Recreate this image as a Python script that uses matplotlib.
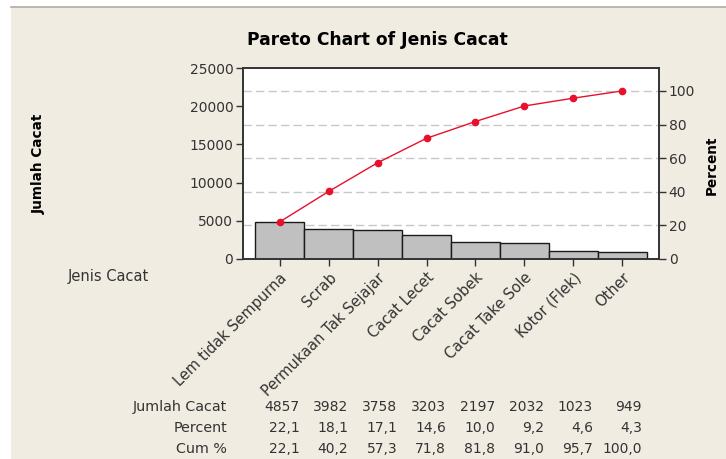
## PARETO CHART OF JENIS CACAT - MINITAB STYLE RECREATION

import numpy as np
import matplotlib.pyplot as plt
import matplotlib.transforms as mtransforms
from matplotlib.patches import Rectangle
from matplotlib.lines import Line2D

## DATA:
categories = ['Lem tidak Sempurna', 'Scrab', 'Permukaan Tak Sejajar', 'Cacat Lecet',
              'Cacat Sobek', 'Cacat Take Sole', 'Kotor (Flek)', 'Other']
counts = [4857, 3982, 3758, 3203, 2197, 2032, 1023, 949]
percent = [22.1, 18.1, 17.1, 14.6, 10.0, 9.2, 4.6, 4.3]
cum_percent = [22.1, 40.2, 57.3, 71.8, 81.8, 91.0, 95.7, 100.0]

left_ticks = [0, 5000, 10000, 15000, 20000, 25000]
right_ticks = [0, 20, 40, 60, 80, 100]

## DERIVED VALUES:
x = np.arange(len(categories))
cum_counts = np.cumsum(counts)
total = cum_counts[-1]
ymax = 25000

bg = '#f0ece2'
txt = '#333333'
plt.rcParams['font.family'] = 'DejaVu Sans'

fig = plt.figure(figsize=(7.26, 4.59), dpi=100, facecolor='white')
W, H = 726.0, 459.0

# beige panel with a thin border line at the top
fig.patches.append(Rectangle((11 / W, 0), 1 - 11 / W, 1 - 7 / H, transform=fig.transFigure,
                             facecolor=bg, edgecolor='none', zorder=-10))
fig.lines.append(Line2D([11 / W, 1], [1 - 7 / H, 1 - 7 / H], transform=fig.transFigure,
                        color='#b0aca4', lw=1.2))

ax = fig.add_axes([243 / W, 1 - 259 / H, (659 - 243) / W, (259 - 68) / H])
ax.set_facecolor('white')

## GRID LINES AT THE PERCENT TICKS (drawn behind the bars):
for p in right_ticks[1:]:
    ax.axhline(p / 100.0 * total, color='#c8c8c8', lw=1, dashes=(6, 3), zorder=0)

## BARS AND CUMULATIVE LINE:
ax.bar(x, counts, width=1.0, color='#c0c0c0', edgecolor='#1a1a1a', lw=1, zorder=2)
ax.plot(x, cum_counts, color='#e8102a', lw=1, marker='o', ms=4.5, zorder=3)

ax.set_xlim(-0.75, len(categories) - 0.25)
ax.set_ylim(0, ymax)
ax.set_yticks(left_ticks)
ax.set_yticklabels([str(v) for v in left_ticks], fontsize=10, color=txt)
ax.set_xticks(x)
ax.set_xticklabels(categories, rotation=45, ha='right', rotation_mode='anchor',
                   fontsize=10.5, color=txt)
ax.tick_params(axis='x', direction='out', length=5, width=1, pad=3, colors='#333333')
ax.tick_params(axis='y', direction='out', length=5, width=1, pad=2, colors='#333333')
for lab in ax.get_xticklabels() + ax.get_yticklabels():
    lab.set_color(txt)
for s in ax.spines.values():
    s.set_color('#333333')
    s.set_linewidth(1.2)

## RIGHT AXIS IN PERCENT:
ax2 = ax.twinx()
ax2.set_ylim(0, ymax / total * 100)
ax2.set_yticks(right_ticks)
ax2.set_yticklabels([str(v) for v in right_ticks], fontsize=10, color=txt)
ax2.tick_params(axis='y', direction='out', length=5, width=1, pad=2, colors='#333333')
for lab in ax2.get_yticklabels():
    lab.set_color(txt)
for s in ax2.spines.values():
    s.set_color('#333333')
    s.set_linewidth(1.2)

## TITLES AND LABELS:
fig.text(377 / W, 1 - 40 / H, 'Pareto Chart of Jenis Cacat', ha='center', va='center',
         fontsize=12.3, fontweight='bold', color='black')
fig.text(39 / W, 1 - 164 / H, 'Jumlah Cacat', rotation=90, ha='center', va='center',
         fontsize=9.8, fontweight='bold', color='black')
fig.text(712 / W, 1 - 165 / H, 'Percent', rotation=90, ha='center', va='center',
         fontsize=9.8, fontweight='bold', color='black')
fig.text(68 / W, 1 - 276 / H, 'Jenis Cacat', ha='left', va='center', fontsize=10.5, color=txt)

## TABLE UNDER THE CHART:
trans = mtransforms.blended_transform_factory(ax.transData, fig.transFigure)
rows = [
    ('Jumlah Cacat', [str(v) for v in counts], 407),
    ('Percent', [f'{v:.1f}'.replace('.', ',') for v in percent], 428),
    ('Cum %', [f'{v:.1f}'.replace('.', ',') for v in cum_percent], 449),
]
for label, vals, ypix in rows:
    fig.text(227 / W, 1 - ypix / H, label, ha='right', va='center', fontsize=10.3, color=txt)
    for xi, v in zip(x, vals):
        ax.text(xi + 0.4, 1 - ypix / H, v, transform=trans, ha='right', va='center',
                fontsize=10, color=txt)

fig.savefig('out.png', dpi=100, facecolor=fig.get_facecolor())
